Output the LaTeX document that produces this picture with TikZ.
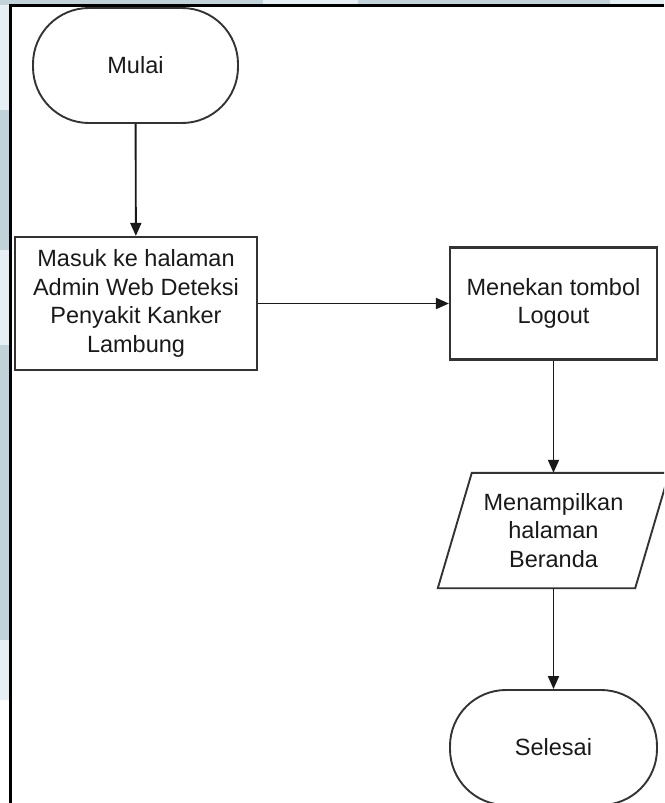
\documentclass[tikz,border=0pt]{standalone}
\usepackage{fontspec}
\setmainfont{Liberation Sans}
\usetikzlibrary{arrows.meta}
\definecolor{scanblue}{HTML}{C2D2D9}
\definecolor{scanpale}{HTML}{E6F0F4}
\definecolor{boxline}{HTML}{333333}
\begin{document}
\begin{tikzpicture}[x=1pt,y=-1pt,
  every node/.style={font=\fontsize{23.5}{28.5}\selectfont, text=black!90, align=center},
  terminal/.style={draw=boxline, line width=1.9pt, rounded corners=56pt,
    minimum width=205pt, minimum height=115pt, inner sep=0pt},
  process/.style={draw=boxline, line width=2.2pt, inner sep=0pt},
  iobox/.style={inner sep=0pt, minimum width=197pt, minimum height=115pt},
  flow/.style={line width=1.9pt, draw=black!90, -{Triangle[length=13pt,width=11pt]}}]
  \useasboundingbox (0,0) rectangle (664,803);
  \clip (0,0) rectangle (664,803);

  % page margin tint
  \fill[scanblue] (0,0) rectangle (10,640);
  \fill[scanpale] (0,0) rectangle (10,110);
  \fill[scanpale] (0,250) rectangle (10,345);
  \fill[scanpale] (0,640) rectangle (10,700);
  \fill[scanblue] (0,0) rectangle (263,5);
  \fill[scanpale] (263,0) rectangle (358,5);
  \fill[scanblue] (358,0) rectangle (610,5);
  \fill[scanpale] (610,0) rectangle (664,5);

  % frame
  \draw[line width=2.2pt, black] (10.5,803) -- (10.5,5.5) -- (664,5.5);

  % flowchart nodes
  \node[terminal] (start) at (135.5,65.5) {Mulai};
  \node[process, minimum width=242pt, minimum height=133pt] (admin) at (136,303.5)
    {Masuk ke halaman\\Admin Web Deteksi\\Penyakit Kanker\\Lambung};
  \node[process, minimum width=207pt, minimum height=112pt] (logout) at (553.5,303.5)
    {Menekan tombol\\Logout};
  \node[iobox] (home) at (553.5,530.5) {Menampilkan\\halaman\\Beranda};
  \draw[boxline, line width=1.9pt]
    ([xshift=17pt]home.north west) -- ([xshift=17pt]home.north east)
    -- ([xshift=-17pt]home.south east) -- ([xshift=-17pt]home.south west) -- cycle;
  \node[terminal, minimum width=207pt] (end) at (553.5,747.5) {Selesai};

  % connectors
  \draw[flow] (start) -- (admin);
  \draw[flow] (admin) -- (logout);
  \draw[flow] (logout) -- (home);
  \draw[flow] (home) -- (end);
\end{tikzpicture}
\end{document}
